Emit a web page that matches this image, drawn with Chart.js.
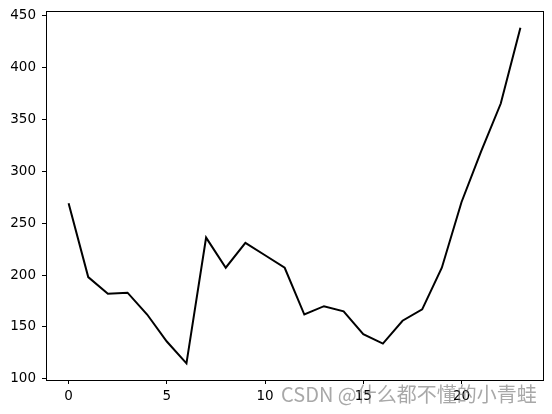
<!DOCTYPE html>
<html>
<head>
<meta charset="utf-8">
<script src="https://cdn.jsdelivr.net/npm/chart.js@4"></script>
<style>
  html, body { margin: 0; padding: 0; background: #fff; }
  #wrap { width: 552px; height: 414px; position: relative; }
</style>
</head>
<body>
<div id="wrap"><canvas id="c"></canvas></div>
<script>
// x positions 0..23 and the plotted values
const xs = [0, 1, 2, 3, 4, 5, 6, 7, 8, 9, 10, 11, 12, 13, 14, 15, 16, 17, 18, 19, 20, 21, 22, 23];
const values = [269, 198, 182, 183, 162, 136, 115, 236, 207, 231, 219, 207, 162, 170, 165, 143, 134, 156, 167, 207, 270, 319, 365, 438];
const xTicks = [0, 5, 10, 15, 20];
const yTicks = [100, 150, 200, 250, 300, 350, 400, 450];
const watermark = 'CSDN @什么都不懂的小青蛙';

const FONT = 'DejaVu Sans';

// matplotlib style: full black frame around the axes, plus the blog watermark
const framePlugin = {
    id: 'frame',
    afterDatasetsDraw(chart) {
        const { ctx, chartArea: a } = chart;
        ctx.save();
        ctx.strokeStyle = '#000';
        ctx.lineWidth = 1;
        ctx.strokeRect(Math.round(a.left) + 0.5, Math.round(a.top) + 0.5,
            Math.round(a.right - a.left), Math.round(a.bottom - a.top));
        ctx.restore();
    },
    afterDraw(chart) {
        const { ctx } = chart;
        ctx.save();
        ctx.font = '20px "Noto Sans CJK SC"';
        ctx.fillStyle = 'rgba(110,110,110,0.6)';
        ctx.textBaseline = 'alphabetic';
        ctx.fillText(watermark, 281, 402);
        ctx.restore();
    },
};

new Chart(document.getElementById('c'), {
    type: 'line',
    data: {
        datasets: [{
            data: xs.map((x, i) => ({ x, y: values[i] })),
            borderColor: '#000',
            borderWidth: 2,
            pointRadius: 0,
            tension: 0,
            fill: false,
        }],
    },
    options: {
        responsive: true,
        maintainAspectRatio: false,
        animation: false,
        layout: { padding: { top: 11, right: 9, left: 0, bottom: 0 } },
        plugins: { legend: { display: false }, tooltip: { enabled: false } },
        scales: {
            x: {
                type: 'linear',
                min: -1.15,
                max: 24.15,
                afterBuildTicks(s) { s.ticks = xTicks.map(v => ({ value: v })); },
                afterFit(s) { s.height = 34; s.paddingLeft = 0; s.paddingRight = 0; },
                grid: { drawOnChartArea: false, tickLength: 4, color: '#000' },
                border: { display: false },
                ticks: { color: '#000', font: { family: FONT, size: 13.5 }, padding: 4, maxRotation: 0 },
            },
            y: {
                min: 99,
                max: 454,
                afterBuildTicks(s) { s.ticks = yTicks.map(v => ({ value: v })); },
                afterFit(s) { s.width = 46; s.paddingTop = 0; s.paddingBottom = 0; },
                grid: { drawOnChartArea: false, tickLength: 4, color: '#000' },
                border: { display: false },
                ticks: { color: '#000', font: { family: FONT, size: 13.5 }, padding: 6 },
            },
        },
    },
    plugins: [framePlugin],
});
</script>
</body>
</html>
